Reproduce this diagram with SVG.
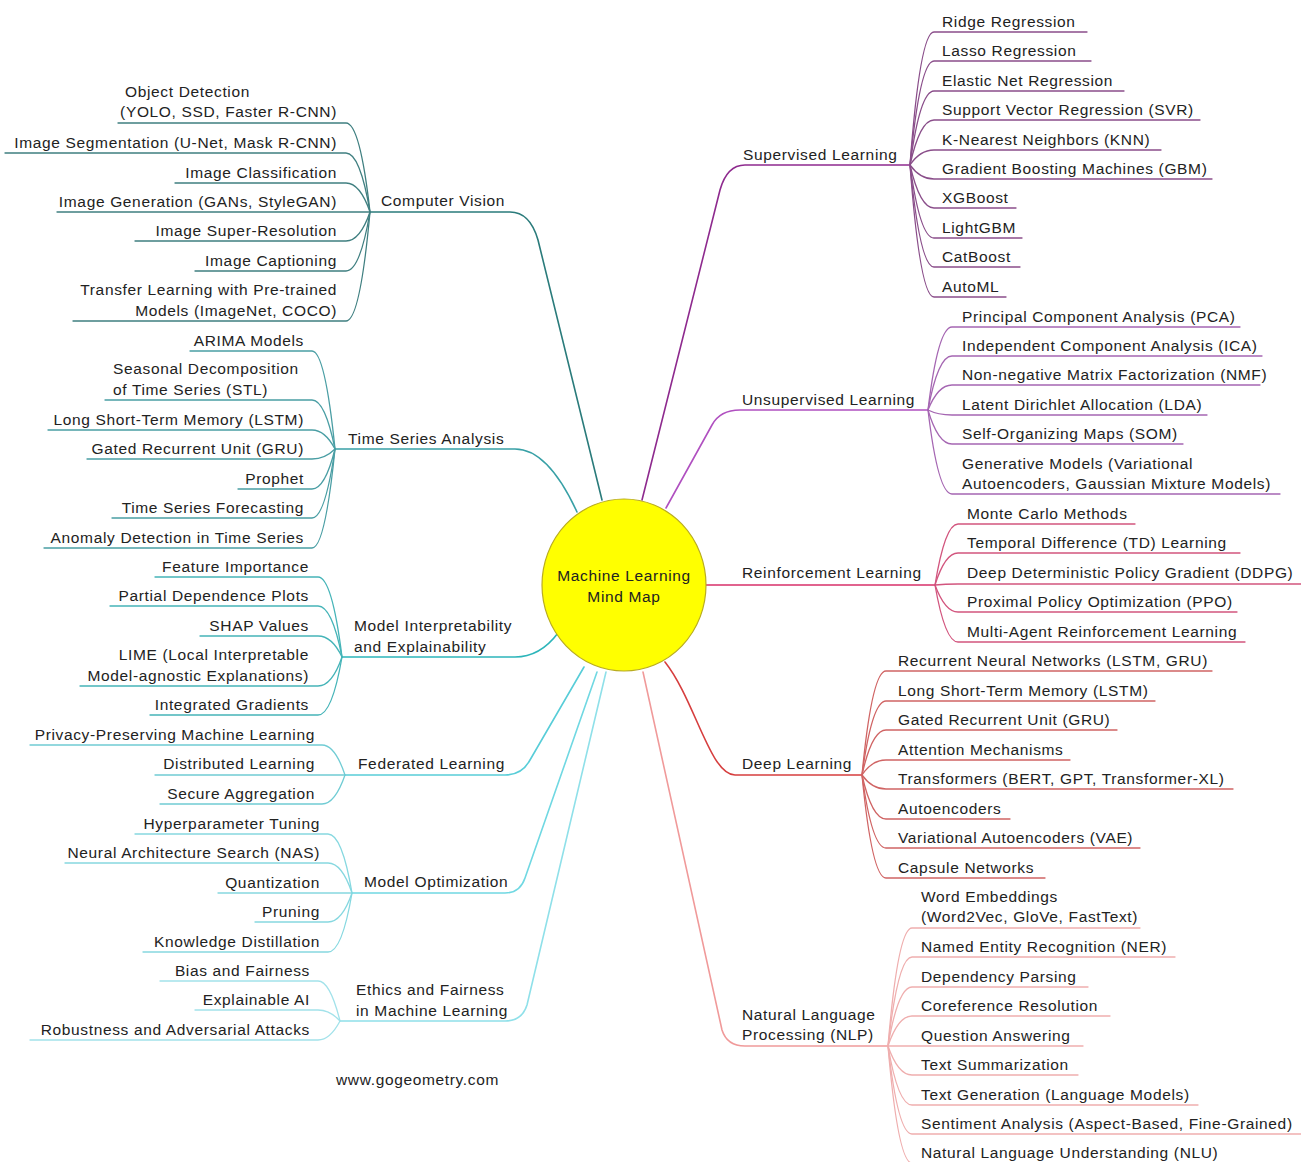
<svg xmlns="http://www.w3.org/2000/svg" width="1301" height="1162" viewBox="0 0 1301 1162">
<style>
text{font-family:"Liberation Sans",Arial,Helvetica,sans-serif;font-size:15.5px;letter-spacing:0.65px;fill:#222222}
.e{text-anchor:end}
.m{text-anchor:middle}
path{fill:none;stroke-linecap:round;stroke-linejoin:round}
.b{stroke-width:1.6}
.l{stroke-width:1.3}
.sup{stroke:#8E2A8E}.supl{stroke:#8A4E8A}
.uns{stroke:#B050C0}.unsl{stroke:#A566B2}
.rei{stroke:#D8306A}.reil{stroke:#D2557E}
.dee{stroke:#D63E3E}.deel{stroke:#D06464}
.nlp{stroke:#F09A9A}.nlpl{stroke:#EFAEAE}
.cv{stroke:#2A7B7B}.cvl{stroke:#3F7F80}
.ts{stroke:#38A0A6}.tsl{stroke:#4A9EA4}
.mi{stroke:#2DB5BA}.mil{stroke:#45B4B8}
.fe{stroke:#58CDD8}.fel{stroke:#70CCD4}
.mo{stroke:#70D8E2}.mol{stroke:#86D8E0}
.et{stroke:#8FE0E9}.etl{stroke:#A2E2EA}
</style>
<rect width="1301" height="1162" fill="#ffffff"/>
<g id="connectors">
<path class="b sup" d="M642,500 L720,190 Q727,165 745,165 L910,165"/>
<path class="b uns" d="M666,508 L712,425 Q720,410 740,410 L928,410"/>
<path class="b rei" d="M705,585 L935,585"/>
<path class="b dee" d="M665,662 C695,700 710,775 735,775 L862,775"/>
<path class="b nlp" d="M643,672 L722,1030 Q727,1046 745,1046 L888,1046"/>
<path class="b cv" d="M602,500 L538,240 Q530,212 510,212 L370,212"/>
<path class="b ts" d="M577,512 Q548,449 515,449 L335,449"/>
<path class="b mi" d="M558,633 Q540,657 515,657 L342,657"/>
<path class="b fe" d="M584,667 L530,760 Q522,775 505,775 L345,775"/>
<path class="b mo" d="M597,672 L525,878 Q520,893 505,893 L352,893"/>
<path class="b et" d="M606,672 L527,1005 Q522,1021 505,1021 L340,1021"/>
<path class="l supl" d="M910,165 Q920,32 934,32 L1087,32"/>
<path class="l supl" d="M910,165 Q920,61 934,61 L1091,61"/>
<path class="l supl" d="M910,165 Q920,91 934,91 L1124,91"/>
<path class="l supl" d="M910,165 Q920,120 934,120 L1200,120"/>
<path class="l supl" d="M910,165 Q920,150 934,150 L1161,150"/>
<path class="l supl" d="M910,165 Q920,179 934,179 L1212,179"/>
<path class="l supl" d="M910,165 Q920,208 934,208 L1016,208"/>
<path class="l supl" d="M910,165 Q920,238 934,238 L1022,238"/>
<path class="l supl" d="M910,165 Q920,267 934,267 L1020,267"/>
<path class="l supl" d="M910,165 Q920,297 934,297 L1006,297"/>
<path class="l unsl" d="M928,410 Q938,327 952,327 L1240,327"/>
<path class="l unsl" d="M928,410 Q938,356 952,356 L1262,356"/>
<path class="l unsl" d="M928,410 Q938,385 952,385 L1260,385"/>
<path class="l unsl" d="M928,410 Q938,415 952,415 L1207,415"/>
<path class="l unsl" d="M928,410 Q938,444 952,444 L1183,444"/>
<path class="l unsl" d="M928,410 Q938,494 952,494 L1280,494"/>
<path class="l reil" d="M935,585 Q945,524 958,524 L1135,524"/>
<path class="l reil" d="M935,585 Q945,553 958,553 L1240,553"/>
<path class="l reil" d="M935,585 Q945,584 958,584 L1301,584"/>
<path class="l reil" d="M935,585 Q945,612 958,612 L1237,612"/>
<path class="l reil" d="M935,585 Q945,642 958,642 L1245,642"/>
<path class="l deel" d="M862,775 Q872,671 886,671 L1212,671"/>
<path class="l deel" d="M862,775 Q872,701 886,701 L1155,701"/>
<path class="l deel" d="M862,775 Q872,730 886,730 L1117,730"/>
<path class="l deel" d="M862,775 Q872,760 886,760 L1070,760"/>
<path class="l deel" d="M862,775 Q872,789 886,789 L1233,789"/>
<path class="l deel" d="M862,775 Q872,819 886,819 L1010,819"/>
<path class="l deel" d="M862,775 Q872,848 886,848 L1140,848"/>
<path class="l deel" d="M862,775 Q872,878 886,878 L1045,878"/>
<path class="l nlpl" d="M888,1046 Q898,928 912,928 L1140,928"/>
<path class="l nlpl" d="M888,1046 Q898,957 912,957 L1175,957"/>
<path class="l nlpl" d="M888,1046 Q898,987 912,987 L1088,987"/>
<path class="l nlpl" d="M888,1046 Q898,1016 912,1016 L1110,1016"/>
<path class="l nlpl" d="M888,1046 Q898,1046 912,1046 L1083,1046"/>
<path class="l nlpl" d="M888,1046 Q898,1075 912,1075 L1078,1075"/>
<path class="l nlpl" d="M888,1046 Q898,1105 912,1105 L1198,1105"/>
<path class="l nlpl" d="M888,1046 Q898,1134 912,1134 L1301,1134"/>
<path class="l nlpl" d="M888,1046 Q898,1163 912,1163 L1230,1163"/>
<path class="l cvl" d="M370,212 Q360,123 346,123 L118,123"/>
<path class="l cvl" d="M370,212 Q360,153 346,153 L5,153"/>
<path class="l cvl" d="M370,212 Q360,183 346,183 L175,183"/>
<path class="l cvl" d="M370,212 Q360,212 346,212 L57,212"/>
<path class="l cvl" d="M370,212 Q360,241 346,241 L135,241"/>
<path class="l cvl" d="M370,212 Q360,271 346,271 L195,271"/>
<path class="l cvl" d="M370,212 Q360,321 346,321 L73,321"/>
<path class="l tsl" d="M335,449 Q325,351 312,351 L190,351"/>
<path class="l tsl" d="M335,449 Q325,400 312,400 L105,400"/>
<path class="l tsl" d="M335,449 Q325,430 312,430 L48,430"/>
<path class="l tsl" d="M335,449 Q325,459 312,459 L87,459"/>
<path class="l tsl" d="M335,449 Q325,489 312,489 L238,489"/>
<path class="l tsl" d="M335,449 Q325,518 312,518 L112,518"/>
<path class="l tsl" d="M335,449 Q325,548 312,548 L44,548"/>
<path class="l mil" d="M342,657 Q332,577 318,577 L155,577"/>
<path class="l mil" d="M342,657 Q332,606 318,606 L110,606"/>
<path class="l mil" d="M342,657 Q332,636 318,636 L200,636"/>
<path class="l mil" d="M342,657 Q332,686 318,686 L80,686"/>
<path class="l mil" d="M342,657 Q332,715 318,715 L150,715"/>
<path class="l fel" d="M345,775 Q335,745 322,745 L30,745"/>
<path class="l fel" d="M345,775 Q335,775 322,775 L155,775"/>
<path class="l fel" d="M345,775 Q335,804 322,804 L160,804"/>
<path class="l mol" d="M352,893 Q342,834 328,834 L135,834"/>
<path class="l mol" d="M352,893 Q342,863 328,863 L65,863"/>
<path class="l mol" d="M352,893 Q342,893 328,893 L218,893"/>
<path class="l mol" d="M352,893 Q342,922 328,922 L255,922"/>
<path class="l mol" d="M352,893 Q342,952 328,952 L143,952"/>
<path class="l etl" d="M340,1021 Q330,981 318,981 L160,981"/>
<path class="l etl" d="M340,1021 Q330,1010 318,1010 L195,1010"/>
<path class="l etl" d="M340,1021 Q330,1040 318,1040 L30,1040"/>
</g>

<g id="center">
<ellipse cx="624" cy="585" rx="82" ry="86" fill="#FFFF00" stroke="#B9AC20" stroke-width="1.2"/>
<text class="m" x="624" y="581">Machine Learning</text>
<text class="m" x="624" y="602">Mind Map</text>
</g>

<g id="supervised"><text x="743" y="160">Supervised Learning</text></g>
<g id="sup-ridge"><text x="942" y="27">Ridge Regression</text></g>
<g id="sup-lasso"><text x="942" y="56">Lasso Regression</text></g>
<g id="sup-elastic"><text x="942" y="86">Elastic Net Regression</text></g>
<g id="sup-svr"><text x="942" y="115">Support Vector Regression (SVR)</text></g>
<g id="sup-knn"><text x="942" y="145">K-Nearest Neighbors (KNN)</text></g>
<g id="sup-gbm"><text x="942" y="174">Gradient Boosting Machines (GBM)</text></g>
<g id="sup-xgb"><text x="942" y="203">XGBoost</text></g>
<g id="sup-lgbm"><text x="942" y="233">LightGBM</text></g>
<g id="sup-cat"><text x="942" y="262">CatBoost</text></g>
<g id="sup-automl"><text x="942" y="292">AutoML</text></g>

<g id="unsupervised"><text x="742" y="405">Unsupervised Learning</text></g>
<g id="uns-pca"><text x="962" y="322">Principal Component Analysis (PCA)</text></g>
<g id="uns-ica"><text x="962" y="351">Independent Component Analysis (ICA)</text></g>
<g id="uns-nmf"><text x="962" y="380">Non-negative Matrix Factorization (NMF)</text></g>
<g id="uns-lda"><text x="962" y="410">Latent Dirichlet Allocation (LDA)</text></g>
<g id="uns-som"><text x="962" y="439">Self-Organizing Maps (SOM)</text></g>
<g id="uns-gen"><text x="962" y="469">Generative Models (Variational</text><text x="962" y="489">Autoencoders, Gaussian Mixture Models)</text></g>

<g id="reinforcement"><text x="742" y="578">Reinforcement Learning</text></g>
<g id="rei-mc"><text x="967" y="519">Monte Carlo Methods</text></g>
<g id="rei-td"><text x="967" y="548">Temporal Difference (TD) Learning</text></g>
<g id="rei-ddpg"><text x="967" y="578">Deep Deterministic Policy Gradient (DDPG)</text></g>
<g id="rei-ppo"><text x="967" y="607">Proximal Policy Optimization (PPO)</text></g>
<g id="rei-marl"><text x="967" y="637">Multi-Agent Reinforcement Learning</text></g>

<g id="deep"><text x="742" y="769">Deep Learning</text></g>
<g id="dl-rnn"><text x="898" y="666">Recurrent Neural Networks (LSTM, GRU)</text></g>
<g id="dl-lstm"><text x="898" y="696">Long Short-Term Memory (LSTM)</text></g>
<g id="dl-gru"><text x="898" y="725">Gated Recurrent Unit (GRU)</text></g>
<g id="dl-att"><text x="898" y="755">Attention Mechanisms</text></g>
<g id="dl-trans"><text x="898" y="784">Transformers (BERT, GPT, Transformer-XL)</text></g>
<g id="dl-ae"><text x="898" y="814">Autoencoders</text></g>
<g id="dl-vae"><text x="898" y="843">Variational Autoencoders (VAE)</text></g>
<g id="dl-caps"><text x="898" y="873">Capsule Networks</text></g>

<g id="nlp"><text x="742" y="1020">Natural Language</text><text x="742" y="1040">Processing (NLP)</text></g>
<g id="nlp-we"><text x="921" y="902">Word Embeddings</text><text x="921" y="922">(Word2Vec, GloVe, FastText)</text></g>
<g id="nlp-ner"><text x="921" y="952">Named Entity Recognition (NER)</text></g>
<g id="nlp-dep"><text x="921" y="982">Dependency Parsing</text></g>
<g id="nlp-coref"><text x="921" y="1011">Coreference Resolution</text></g>
<g id="nlp-qa"><text x="921" y="1041">Question Answering</text></g>
<g id="nlp-sum"><text x="921" y="1070">Text Summarization</text></g>
<g id="nlp-gen"><text x="921" y="1100">Text Generation (Language Models)</text></g>
<g id="nlp-sent"><text x="921" y="1129">Sentiment Analysis (Aspect-Based, Fine-Grained)</text></g>
<g id="nlp-nlu"><text x="921" y="1158">Natural Language Understanding (NLU)</text></g>

<g id="cv"><text x="381" y="206">Computer Vision</text></g>
<g id="cv-od"><text x="125" y="97">Object Detection</text><text class="e" x="337" y="117">(YOLO, SSD, Faster R-CNN)</text></g>
<g id="cv-seg"><text class="e" x="337" y="148">Image Segmentation (U-Net, Mask R-CNN)</text></g>
<g id="cv-cls"><text class="e" x="337" y="178">Image Classification</text></g>
<g id="cv-gen"><text class="e" x="337" y="207">Image Generation (GANs, StyleGAN)</text></g>
<g id="cv-sr"><text class="e" x="337" y="236">Image Super-Resolution</text></g>
<g id="cv-cap"><text class="e" x="337" y="266">Image Captioning</text></g>
<g id="cv-tl"><text class="e" x="337" y="295">Transfer Learning with Pre-trained</text><text class="e" x="337" y="316">Models (ImageNet, COCO)</text></g>

<g id="ts"><text x="348" y="444">Time Series Analysis</text></g>
<g id="ts-arima"><text class="e" x="304" y="346">ARIMA Models</text></g>
<g id="ts-stl"><text x="113" y="374">Seasonal Decomposition</text><text x="113" y="395">of Time Series (STL)</text></g>
<g id="ts-lstm"><text class="e" x="304" y="425">Long Short-Term Memory (LSTM)</text></g>
<g id="ts-gru"><text class="e" x="304" y="454">Gated Recurrent Unit (GRU)</text></g>
<g id="ts-prophet"><text class="e" x="304" y="484">Prophet</text></g>
<g id="ts-tsf"><text class="e" x="304" y="513">Time Series Forecasting</text></g>
<g id="ts-anom"><text class="e" x="304" y="543">Anomaly Detection in Time Series</text></g>

<g id="interp"><text x="354" y="631">Model Interpretability</text><text x="354" y="652">and Explainability</text></g>
<g id="mi-fi"><text class="e" x="309" y="572">Feature Importance</text></g>
<g id="mi-pdp"><text class="e" x="309" y="601">Partial Dependence Plots</text></g>
<g id="mi-shap"><text class="e" x="309" y="631">SHAP Values</text></g>
<g id="mi-lime"><text class="e" x="309" y="660">LIME (Local Interpretable</text><text class="e" x="309" y="681">Model-agnostic Explanations)</text></g>
<g id="mi-ig"><text class="e" x="309" y="710">Integrated Gradients</text></g>

<g id="federated"><text x="358" y="769">Federated Learning</text></g>
<g id="fe-ppml"><text class="e" x="315" y="740">Privacy-Preserving Machine Learning</text></g>
<g id="fe-dist"><text class="e" x="315" y="769">Distributed Learning</text></g>
<g id="fe-sec"><text class="e" x="315" y="799">Secure Aggregation</text></g>

<g id="optimization"><text x="364" y="887">Model Optimization</text></g>
<g id="mo-hp"><text class="e" x="320" y="829">Hyperparameter Tuning</text></g>
<g id="mo-nas"><text class="e" x="320" y="858">Neural Architecture Search (NAS)</text></g>
<g id="mo-q"><text class="e" x="320" y="888">Quantization</text></g>
<g id="mo-p"><text class="e" x="320" y="917">Pruning</text></g>
<g id="mo-kd"><text class="e" x="320" y="947">Knowledge Distillation</text></g>

<g id="ethics"><text x="356" y="995">Ethics and Fairness</text><text x="356" y="1016">in Machine Learning</text></g>
<g id="et-bias"><text class="e" x="310" y="976">Bias and Fairness</text></g>
<g id="et-xai"><text class="e" x="310" y="1005">Explainable AI</text></g>
<g id="et-rob"><text class="e" x="310" y="1035">Robustness and Adversarial Attacks</text></g>

<g id="footer"><text x="336" y="1085">www.gogeometry.com</text></g>
</svg>
